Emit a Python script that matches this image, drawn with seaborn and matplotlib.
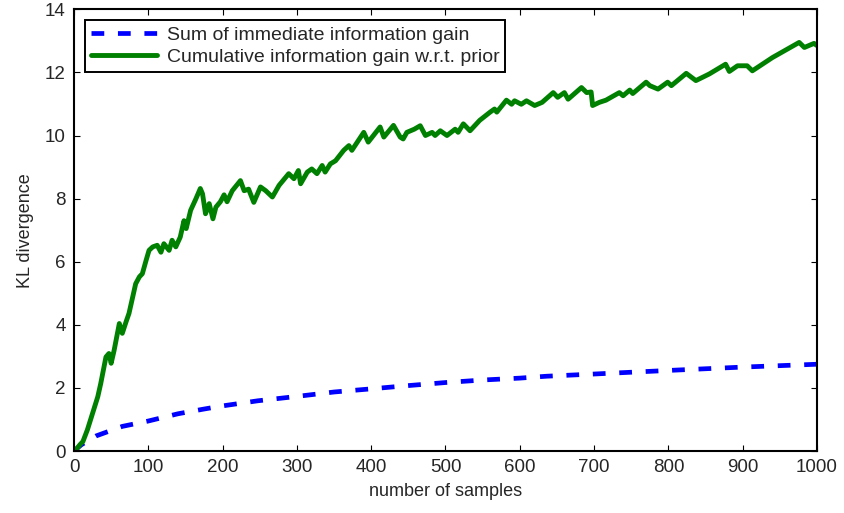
import numpy as np
import pandas as pd
import matplotlib
matplotlib.use("Agg")
import matplotlib.pyplot as plt
import seaborn as sns

# Cumulative information gain w.r.t. prior (noisy green trace)
cum_x = [0, 3, 8, 12, 18, 25, 29, 32, 36, 43, 47, 50, 54, 61, 65, 70, 74, 79, 83, 88,
         92, 97, 101, 106, 112, 117, 121, 128, 132, 137, 143, 148, 151, 157, 164, 170,
         173, 177, 182, 187, 191, 197, 202, 206, 213, 224, 229, 235, 242, 251, 258, 267,
         276, 289, 296, 302, 305, 314, 320, 327, 334, 338, 345, 352, 363, 370, 374, 390,
         396, 412, 417, 430, 439, 443, 448, 458, 466, 473, 482, 486, 493, 502, 513, 517,
         524, 533, 546, 560, 566, 569, 582, 589, 593, 602, 609, 620, 630, 645, 651, 660,
         665, 683, 690, 696, 698, 707, 716, 734, 739, 748, 752, 770, 775, 786, 799, 804,
         824, 837, 855, 877, 882, 893, 906, 913, 940, 958, 976, 983, 996, 1000]
cum_gain = [0.0, 0.05, 0.2, 0.3, 0.67, 1.2, 1.5, 1.72, 2.14, 2.98, 3.09, 2.78, 3.19, 4.04,
            3.73, 4.09, 4.36, 4.88, 5.3, 5.52, 5.62, 6.04, 6.36, 6.47, 6.52, 6.3, 6.57,
            6.36, 6.68, 6.47, 6.78, 7.3, 7.05, 7.63, 7.99, 8.32, 8.15, 7.52, 7.84, 7.36,
            7.73, 7.9, 8.12, 7.9, 8.25, 8.57, 8.25, 8.3, 7.88, 8.37, 8.25, 8.05, 8.42,
            8.79, 8.63, 8.89, 8.47, 8.84, 8.94, 8.79, 9.05, 8.84, 9.1, 9.2, 9.53, 9.68,
            9.53, 10.1, 9.79, 10.27, 9.95, 10.32, 9.95, 9.89, 10.1, 10.2, 10.31, 10.0,
            10.1, 10.0, 10.15, 10.0, 10.2, 10.1, 10.37, 10.15, 10.48, 10.74, 10.84, 10.74,
            11.12, 10.99, 11.1, 10.99, 11.1, 10.95, 11.05, 11.36, 11.21, 11.36, 11.15,
            11.52, 11.36, 11.38, 10.95, 11.05, 11.12, 11.36, 11.26, 11.44, 11.33, 11.69,
            11.58, 11.47, 11.69, 11.58, 11.97, 11.74, 11.95, 12.26, 12.03, 12.21, 12.21,
            12.05, 12.47, 12.71, 12.95, 12.79, 12.92, 12.85]

# Sum of immediate information gain (smooth blue trace)
sum_x = [0, 10, 30, 65, 100, 140, 175, 200, 247, 300, 350, 400, 443, 500, 550, 600,
         636, 700, 806, 900, 1000]
sum_gain = [0.0, 0.2, 0.48, 0.78, 0.95, 1.18, 1.33, 1.43, 1.59, 1.73, 1.87, 1.97, 2.06,
            2.17, 2.25, 2.31, 2.37, 2.44, 2.56, 2.66, 2.75]

x_ticks = list(range(0, 1001, 100))
y_ticks = list(range(0, 15, 2))

sns.set_theme(style="white")
plt.rcParams["font.family"] = ["Liberation Sans", "DejaVu Sans"]
plt.rcParams["xtick.direction"] = "in"
plt.rcParams["ytick.direction"] = "in"

fig = plt.figure(figsize=(8.44, 5.13), dpi=100)
ax = fig.add_axes([74 / 844, 1 - 451 / 513, 743 / 844, 441.7 / 513])

sum_df = pd.DataFrame({"samples": sum_x, "kl": sum_gain})
cum_df = pd.DataFrame({"samples": cum_x, "kl": cum_gain})

sns.lineplot(data=sum_df, x="samples", y="kl", ax=ax, color=(0, 0, 1), lw=3.4,
             label="Sum of immediate information gain")
ax.lines[-1].set_dashes((2.7, 2.9))
sns.lineplot(data=cum_df, x="samples", y="kl", ax=ax, color=(0, 0.5, 0), lw=3.5,
             label="Cumulative information gain w.r.t. prior")

ax.set_xlim(0, 1000)
ax.set_ylim(0, 14)
ax.set_xticks(x_ticks)
ax.set_yticks(y_ticks)
ax.tick_params(axis="both", which="both", direction="in", length=4.2, width=0.8,
               color="black", labelsize=13.5, top=True, right=True,
               bottom=True, left=True)
ax.tick_params(axis="x", pad=6)
ax.tick_params(axis="y", pad=6)
for side in ax.spines.values():
    side.set_visible(True)
    side.set_color("black")
    side.set_linewidth(1.5)

ax.set_xlabel("number of samples", fontsize=13, labelpad=5)
ax.set_ylabel("KL divergence", fontsize=13, labelpad=8)

leg = ax.legend(loc="upper left", bbox_to_anchor=(0.0148, 0.975), borderaxespad=0,
                fontsize=14, frameon=True, fancybox=False, handlelength=3.4,
                borderpad=0.3, labelspacing=0.25, handletextpad=0.5)
leg.get_frame().set_edgecolor("black")
leg.get_frame().set_linewidth(1.4)
leg.get_frame().set_alpha(1)

fig.savefig("out.png", dpi=100, facecolor="white")
